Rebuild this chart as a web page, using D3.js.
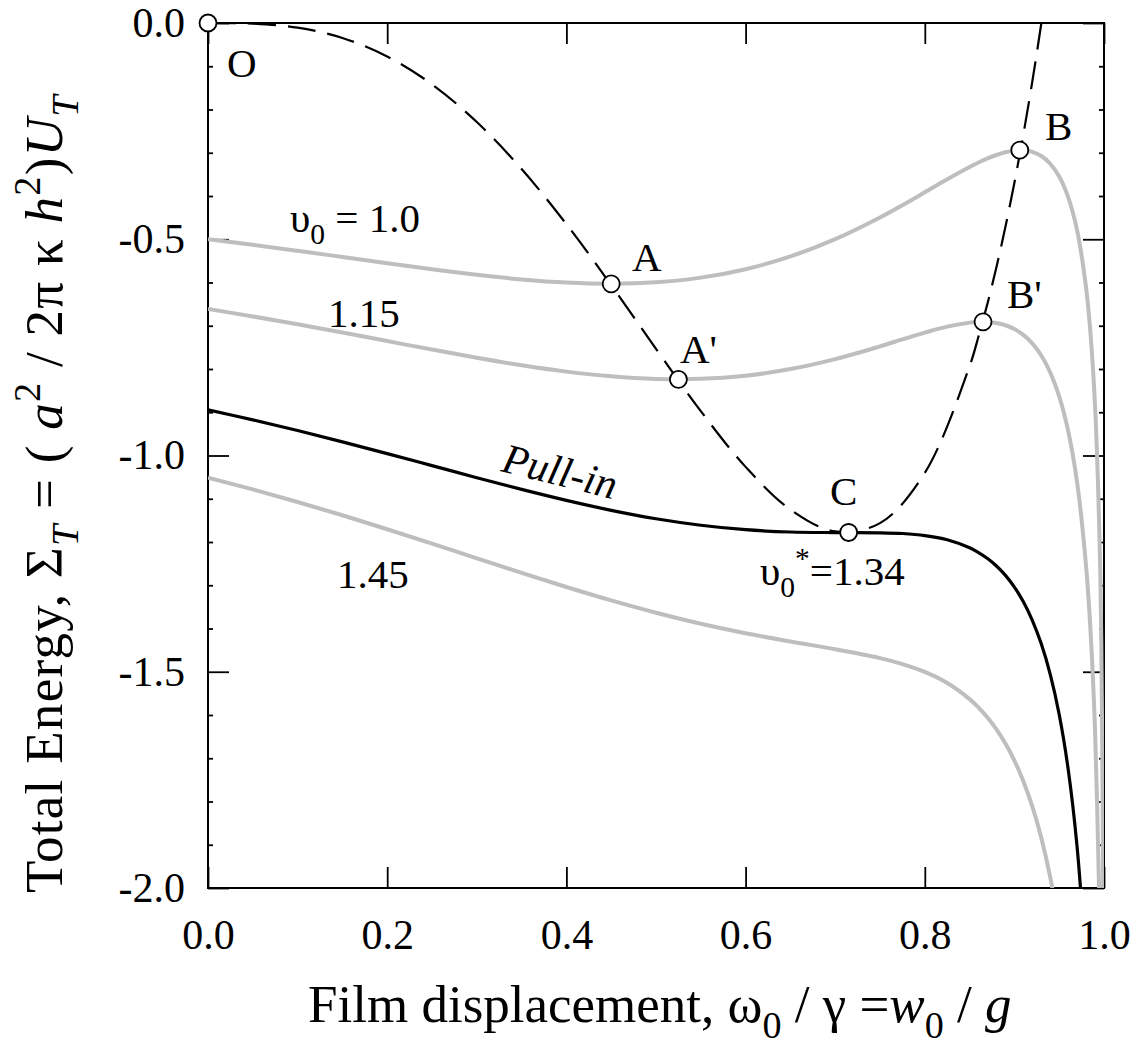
<!DOCTYPE html>
<html>
<head>
<meta charset="utf-8">
<script src="https://cdn.jsdelivr.net/npm/d3@7"></script>
<style>
  html, body { margin: 0; padding: 0; background: #fff; }
  svg { display: block; }
  text { white-space: pre; font-family: "Liberation Serif", "Times New Roman", serif; }
</style>
</head>
<body>
<svg id="chart" width="1144" height="1057"></svg>
<script>
// Film displacement ω0/γ at which the constant-voltage energy curves are sampled
const displacement = [0, 0.05, 0.10, 0.15, 0.20, 0.25, 0.30, 0.35, 0.40, 0.45, 0.50, 0.55,
  0.60, 0.65, 0.70, 0.75, 0.775, 0.80, 0.825, 0.85, 0.86, 0.87, 0.88, 0.89, 0.90, 0.91, 0.92,
  0.93, 0.94, 0.95, 0.96, 0.97, 0.98, 0.985, 0.99, 0.995, 0.997, 0.999, 0.9991];

// Total energy Σ_T for each applied voltage υ0 (each list runs until the curve leaves the frame)
const energyV100 = [-0.5000, -0.5129, -0.5267, -0.5410, -0.5555, -0.5695, -0.5823, -0.5929,
  -0.6001, -0.6028, -0.5994, -0.5887, -0.5692, -0.5398, -0.4998, -0.4496, -0.4212, -0.3915,
  -0.3615, -0.3330, -0.3226, -0.3132, -0.3052, -0.2989, -0.2951, -0.2944, -0.2981, -0.3076,
  -0.3254, -0.3549, -0.4025, -0.4796, -0.6124, -0.7198, -0.8850, -1.1923, -1.4312, -1.9633,
  -2.0151];
const energyV115 = [-0.6613, -0.6784, -0.6966, -0.7157, -0.7354, -0.7551, -0.7740, -0.7914,
  -0.8061, -0.8170, -0.8229, -0.8228, -0.8154, -0.8002, -0.7772, -0.7476, -0.7316, -0.7159,
  -0.7021, -0.6928, -0.6912, -0.6913, -0.6937, -0.6988, -0.7076, -0.7211, -0.7408, -0.7687,
  -0.8080, -0.8634, -0.9432, -1.0625, -1.2561, -1.4073, -1.6350, -2.0509];
const energyPullIn = [-0.8945, -0.9176, -0.9423, -0.9684, -0.9956, -1.0234, -1.0513, -1.0784,
  -1.1038, -1.1268, -1.1463, -1.1613, -1.1716, -1.1769, -1.1782, -1.1787, -1.1804, -1.1851,
  -1.1948, -1.2133, -1.2243, -1.2382, -1.2555, -1.2772, -1.3042, -1.3382, -1.3810, -1.4355,
  -1.5060, -1.5988, -1.7251, -1.9055, -2.1869];
const energyV145 = [-1.0513, -1.0784, -1.1075, -1.1382, -1.1705, -1.2038, -1.2377, -1.2714,
  -1.3041, -1.3351, -1.3636, -1.3890, -1.4110, -1.4301, -1.4480, -1.4685, -1.4822, -1.5005,
  -1.5261, -1.5633, -1.5828, -1.6059, -1.6333, -1.6661, -1.7054, -1.7531, -1.8115, -1.8839,
  -1.9753, -2.0932];

// Locus of energy extrema (dashed), starting from the undeflected state O
const locusDisplacement = [0, 0.025, 0.05, 0.10, 0.15, 0.20, 0.25, 0.30, 0.35, 0.40, 0.45,
  0.50, 0.55, 0.60, 0.65, 0.70, 0.75, 0.80, 0.85, 0.86, 0.87, 0.88, 0.89, 0.90, 0.91, 0.92,
  0.93, 0.935];
const locusEnergy = [0, -0.0002, -0.0014, -0.0108, -0.0346, -0.0774, -0.1418, -0.2290,
  -0.3377, -0.4651, -0.6060, -0.7533, -0.8974, -1.0263, -1.1250, -1.1756, -1.1563, -1.0402,
  -0.7933, -0.7244, -0.6482, -0.5639, -0.4712, -0.3693, -0.2575, -0.1352, -0.0011, 0.0706];

// Marked equilibrium points
const pointNames = ["O", "A", "A'", "C", "B'", "B"];
const pointDisplacement = [0, 0.45, 0.525, 0.715, 0.865, 0.906];
const pointEnergy = [0, -0.603, -0.824, -1.178, -0.691, -0.294];

// Axis ticks
const xTicks = [0, 0.2, 0.4, 0.6, 0.8, 1.0];
const xTickLabels = ["0.0", "0.2", "0.4", "0.6", "0.8", "1.0"];
const yTicks = [0, -0.5, -1.0, -1.5, -2.0];
const yTickLabels = ["0.0", "-0.5", "-1.0", "-1.5", "-2.0"];
const yMinorTicks = [-0.1, -0.2, -0.3, -0.4, -0.6, -0.7, -0.8, -0.9, -1.1, -1.2, -1.3, -1.4,
  -1.6, -1.7, -1.8, -1.9];

const FONT = "'Liberation Serif', 'Times New Roman', serif";
const svg = d3.select("#chart");
const L = 208, R = 1104, T = 23, B = 888;
const x = d3.scaleLinear().domain([0, 1]).range([L, R]);
const y = d3.scaleLinear().domain([-2, 0]).range([B, T]);

const GRAY = "#bebebe";
const MAJOR = 21, MINOR = 5;

// ---- axes: ticks pointing into the frame on all four sides ----
function styleAxis(g) {
  g.attr("font-family", FONT);
  g.select(".domain").remove();
  g.selectAll(".tick line").attr("stroke", "#000").attr("stroke-width", 1.8);
  g.selectAll(".tick text").attr("fill", "#000").attr("font-size", 42)
    .attr("font-family", FONT);
}
svg.append("g").attr("transform", `translate(0,${B})`)
  .call(d3.axisBottom(x).tickValues(xTicks).tickSize(-MAJOR).tickPadding(31)
    .tickFormat((d, i) => xTickLabels[i]))
  .call(styleAxis);
svg.append("g").attr("transform", `translate(0,${T})`)
  .call(d3.axisTop(x).tickValues(xTicks).tickSize(-MAJOR).tickFormat(""))
  .call(styleAxis);
svg.append("g").attr("transform", `translate(${L},0)`)
  .call(d3.axisLeft(y).tickValues(yTicks).tickSize(-MAJOR).tickPadding(23)
    .tickFormat((d, i) => yTickLabels[i]))
  .call(styleAxis);
svg.append("g").attr("transform", `translate(${L},0)`)
  .call(d3.axisLeft(y).tickValues(yMinorTicks).tickSize(-MINOR).tickFormat(""))
  .call(styleAxis);
svg.append("g").attr("transform", `translate(${R},0)`)
  .call(d3.axisRight(y).tickValues(yTicks).tickSize(-MAJOR).tickFormat(""))
  .call(styleAxis);
svg.append("g").attr("transform", `translate(${R},0)`)
  .call(d3.axisRight(y).tickValues(yMinorTicks).tickSize(-MINOR).tickFormat(""))
  .call(styleAxis);

svg.append("rect").attr("x", L).attr("y", T).attr("width", R - L).attr("height", B - T)
  .attr("fill", "none").attr("stroke", "#000").attr("stroke-width", 2);

// ---- curves ----
svg.append("clipPath").attr("id", "plot-clip")
  .append("rect").attr("x", L).attr("y", T).attr("width", R - L).attr("height", B - T);
const plot = svg.append("g").attr("clip-path", "url(#plot-clip)");

const line = d3.line()
  .x(d => x(d[0])).y(d => y(d[1]))
  .curve(d3.curveCatmullRom.alpha(0.5));
const pairs = (xs, ys) => ys.map((v, i) => [xs[i], v]);

[energyV100, energyV115, energyV145].forEach(series => {
  plot.append("path").datum(pairs(displacement, series))
    .attr("d", line).attr("fill", "none")
    .attr("stroke", GRAY).attr("stroke-width", 4);
});
plot.append("path").datum(pairs(displacement, energyPullIn))
  .attr("d", line).attr("fill", "none")
  .attr("stroke", "#000").attr("stroke-width", 3.2);
plot.append("path").datum(pairs(locusDisplacement, locusEnergy))
  .attr("d", line).attr("fill", "none")
  .attr("stroke", "#000").attr("stroke-width", 2.2)
  .attr("stroke-dasharray", "28,12");

// ---- marked points ----
svg.append("g").selectAll("circle")
  .data(pointNames.map((n, i) => ({ n, w: pointDisplacement[i], e: pointEnergy[i] })))
  .join("circle")
  .attr("cx", d => x(d.w)).attr("cy", d => y(d.e)).attr("r", 8.5)
  .attr("fill", "#fff").attr("stroke", "#000").attr("stroke-width", 1.8);

// ---- text helpers ----
function richText(parent, px, py, size, parts, attrs = {}) {
  const t = parent.append("text").attr("x", px).attr("y", py)
    .attr("font-size", size).attr("font-family", FONT).attr("fill", "#000");
  Object.entries(attrs).forEach(([k, v]) => t.attr(k, v));
  let shift = 0;
  parts.forEach(p => {
    const s = p.sub ? 0.30 * size : p.sup ? -0.42 * size : 0;
    const ts = t.append("tspan").text(p.t).attr("dy", s - shift);
    if (p.sub || p.sup) ts.attr("font-size", size * 0.72);
    if (p.it) ts.attr("font-style", "italic");
    shift = s;
  });
  return t;
}
function plainText(parent, px, py, size, str) {
  return parent.append("text").attr("x", px).attr("y", py)
    .attr("font-size", size).attr("font-family", FONT).attr("fill", "#000").text(str);
}

const ann = svg.append("g");
const LABEL = 41;
// point letters
const pointLabelPos = { "O": [227, 77], "A": [632, 271], "A'": [680, 363], "C": [830, 505],
  "B'": [1007, 308], "B": [1045, 140] };
pointNames.forEach(n => plainText(ann, pointLabelPos[n][0], pointLabelPos[n][1], LABEL, n));

// curve labels
richText(ann, 290, 232, LABEL, [{ t: "υ" }, { t: "0", sub: 1 }, { t: " = 1.0" }]);
plainText(ann, 328, 327, LABEL, "1.15");
plainText(ann, 337, 588, LABEL, "1.45");
plainText(ann, 0, 0, 42, "Pull-in")
  .attr("transform", "translate(500,471) rotate(14)").attr("font-style", "italic");
richText(ann, 760, 585, LABEL, [{ t: "υ" }, { t: "0", sub: 1 }, { t: "*", sup: 1 }, { t: "=1.34" }]);

// ---- axis titles ----
const AXIS = 53;
richText(svg, 308, 1022, AXIS, [
  { t: "Film displacement, ω" }, { t: "0", sub: 1 }, { t: " / γ =" },
  { t: "w", it: 1 }, { t: "0", sub: 1 }, { t: " / " }, { t: "g", it: 1 }
]);
const yTitle = svg.append("g").attr("transform", "translate(62,893) rotate(-90)");
richText(yTitle, 0, 0, AXIS, [
  { t: "Total Energy, Σ" }, { t: "T", sub: 1, it: 1 }, { t: " = ( " },
  { t: "a", it: 1 }, { t: "2", sup: 1 }, { t: " / 2π κ " }, { t: "h", it: 1 },
  { t: "2", sup: 1 }, { t: ")" }, { t: "U", it: 1 }, { t: "T", sub: 1, it: 1 }
], { "letter-spacing": 1.3 });
</script>
</body>
</html>
